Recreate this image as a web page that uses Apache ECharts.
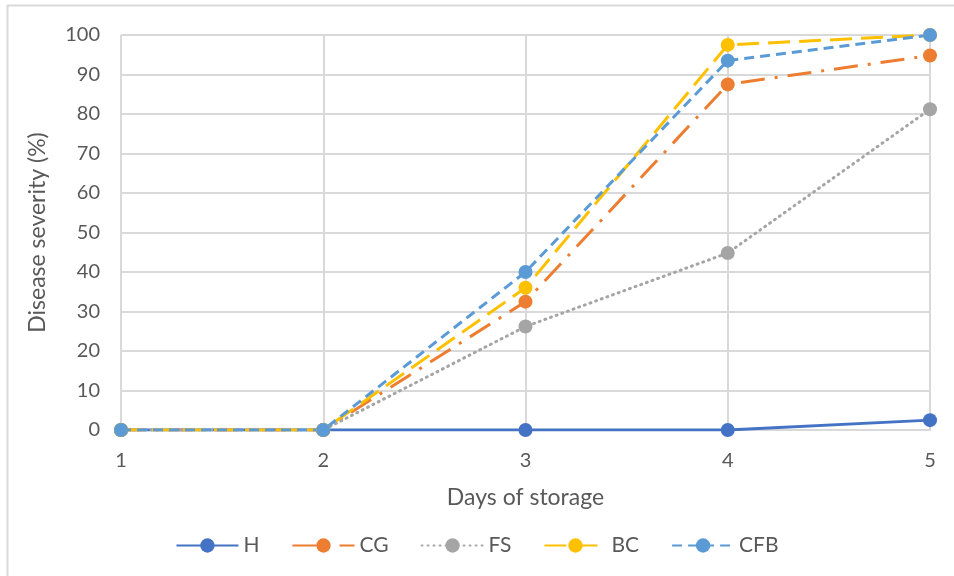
<!DOCTYPE html>
<html>
<head>
<meta charset="utf-8">
<script src="https://cdn.jsdelivr.net/npm/echarts@6/dist/echarts.min.js"></script>
<style>
  html, body { margin: 0; padding: 0; background: #fff; }
  #chart { width: 954px; height: 576px; }
</style>
</head>
<body>
<div id="chart"></div>
<script>
// Days of storage
const days = ['1', '2', '3', '4', '5'];

// Disease severity (%) per treatment
const seriesNames = ['H', 'CG', 'FS', 'BC', 'CFB'];
const H   = [0, 0, 0, 0, 2.5];
const CG  = [0, 0, 32.5, 87.5, 94.8];
const FS  = [0, 0, 26.2, 44.8, 81.2];
const BC  = [0, 0, 36, 97.5, 100];
const CFB = [0, 0, 40, 93.5, 100];

const yTicks = { min: 0, max: 100, step: 10 };

const FONT = 'Lato, "Open Sans", sans-serif';
const TXT = '#595959';
const GRID = '#d9d9d9';

const styles = {
  H:   { color: '#4472C4', type: 'solid' },
  CG:  { color: '#ED7D31', type: [24, 10, 3, 10] },
  FS:  { color: '#A5A5A5', type: [1, 5], cap: 'round' },
  BC:  { color: '#FFC000', type: [22, 9] },
  CFB: { color: '#5B9BD5', type: [10, 6] }
};
const values = { H, CG, FS, BC, CFB };

const chart = echarts.init(document.getElementById('chart'), null, { renderer: 'canvas' });

chart.setOption({
  backgroundColor: '#fff',
  animation: false,
  graphic: [{
    type: 'rect',
    shape: { x: 7.5, y: 5.5, width: 960, height: 600 },
    style: { fill: 'none', stroke: GRID, lineWidth: 2 },
    silent: true,
    z: -10
  }],
  grid: { left: 121, right: 24, top: 35, bottom: 146 },
  legend: {
    top: 530,
    left: 'center',
    itemWidth: 62,
    itemHeight: 18,
    itemGap: 32,
    textStyle: { fontFamily: FONT, fontSize: 21, color: TXT },
    data: seriesNames
  },
  xAxis: {
    type: 'category',
    data: days,
    boundaryGap: false,
    name: 'Days of storage',
    nameLocation: 'middle',
    nameGap: 56,
    nameTextStyle: { fontFamily: FONT, fontSize: 23, color: TXT },
    axisLine: { show: true, lineStyle: { color: GRID, width: 2 } },
    axisTick: { show: false },
    axisLabel: { fontFamily: FONT, fontSize: 20, color: TXT, margin: 21 },
    splitLine: { show: true, lineStyle: { color: GRID, width: 2 } }
  },
  yAxis: {
    type: 'value',
    min: yTicks.min,
    max: yTicks.max,
    interval: yTicks.step,
    name: 'Disease severity (%)',
    nameLocation: 'middle',
    nameGap: 72,
    nameTextStyle: { fontFamily: FONT, fontSize: 23, color: TXT },
    axisLine: { show: false },
    axisTick: { show: false },
    axisLabel: { fontFamily: FONT, fontSize: 20, color: TXT, margin: 21 },
    splitLine: { show: true, lineStyle: { color: GRID, width: 2 } }
  },
  series: seriesNames.map(name => ({
    name,
    type: 'line',
    data: values[name],
    symbol: 'circle',
    symbolSize: 14,
    showAllSymbol: true,
    color: styles[name].color,
    itemStyle: { color: styles[name].color },
    lineStyle: {
      color: styles[name].color,
      width: 3,
      type: styles[name].type,
      cap: styles[name].cap || 'butt'
    },
    emphasis: { disabled: true }
  }))
});
</script>
</body>
</html>
